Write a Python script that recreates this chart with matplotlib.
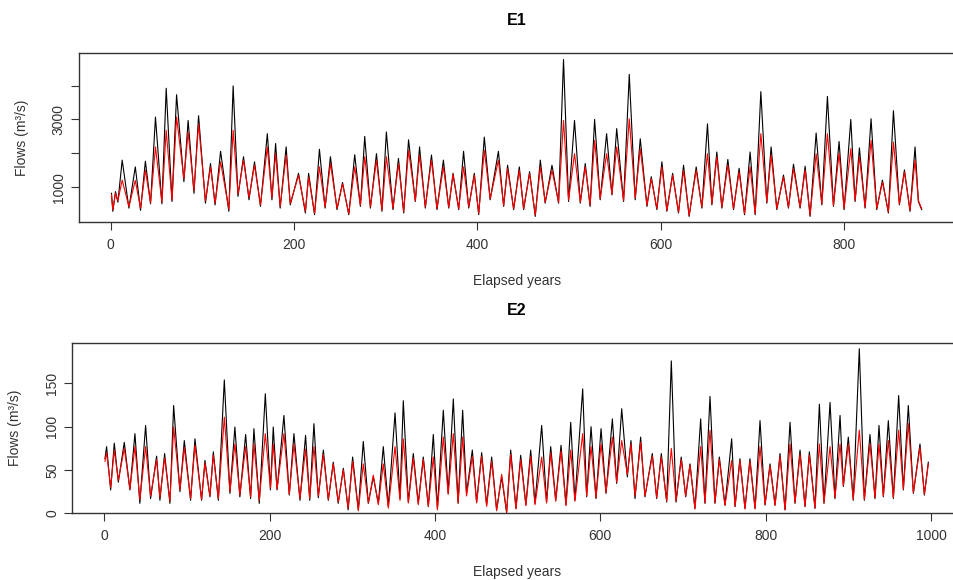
import matplotlib
matplotlib.use("Agg")
import matplotlib.pyplot as plt

plt.rcParams["font.family"] = ["Liberation Sans", "DejaVu Sans"]

# ---- E1: turning points (peaks / troughs) ----
E1_T = [
    1, 2.5, 5.4, 8, 12.7, 20, 27, 32.7, 38, 43.6, 49, 56, 60.7, 67, 72, 80,
    84.6, 91, 96, 103.5, 109, 114, 120, 129, 133.7, 139, 145, 151, 157, 163.5,
    171, 176, 180, 185, 191.5, 196, 205, 212.5, 216, 222.5, 227.8, 234, 239.8,
    247, 253, 259.8, 266.3, 272.5, 277.2, 283.4, 290, 296, 300.8, 308, 314,
    319.7, 325, 332.4, 337, 343.3, 350, 356, 363, 368.8, 373.5, 379.7, 385,
    390.6, 396.7, 401.5, 407.6, 414, 423, 428.7, 433, 439.6, 445.8, 450.5, 457,
    463.2, 468.7, 474, 481.4, 488.6, 494, 499.5, 506, 512.3, 517.7, 523, 527.9,
    534, 541, 546.8, 552, 559.5, 565.7, 572.2, 577.7, 585, 589.7, 595.8, 601.3,
    606.7, 613, 619.4, 624.9, 631, 638.7, 644.9, 651, 655.8, 661.2, 666.7,
    673.2, 679.4, 685.5, 691.4, 697.5, 703, 709.2, 715.7, 720.4, 726.6, 733.9,
    739.3, 744.8, 752, 757.5, 762.9, 769.5, 775.7, 781.8, 788.4, 794.5, 800,
    807.3, 812, 816.7, 822.9, 829.4, 835.6, 841.8, 848.3, 853.8, 860.3, 865.8,
    871.9, 877.4, 881, 884.6,
]
E1_OBS = [
    820, 290, 870, 560, 1800, 385, 1600, 320, 1770, 510, 3070, 510, 3920, 580,
    3730, 1165, 2970, 820, 3110, 530, 1700, 480, 2060, 290, 3990, 730, 1900,
    630, 1750, 435, 2580, 630, 2290, 385, 2190, 480, 1410, 240, 1410, 190,
    2120, 385, 1900, 340, 1140, 190, 1960, 435, 2500, 385, 1990, 290, 2630,
    340, 1850, 240, 2400, 580, 2190, 385, 1950, 340, 1800, 385, 1410, 340,
    2060, 385, 1410, 190, 2480, 630, 2060, 435, 1650, 340, 1600, 340, 1460,
    140, 1800, 530, 1650, 530, 4770, 580, 2970, 530, 1700, 435, 3000, 630,
    2580, 775, 2730, 580, 4330, 630, 2430, 435, 1310, 340, 1750, 290, 1410,
    240, 1650, 140, 1600, 385, 2870, 480, 2040, 385, 1820, 340, 1560, 190,
    2040, 190, 3820, 530, 2190, 340, 1360, 385, 1680, 385, 1620, 140, 2600,
    480, 3680, 435, 2350, 340, 3000, 580, 2160, 385, 3020, 340, 1210, 240,
    3260, 480, 1510, 290, 2190, 580, 340,
]
E1_SIM = [
    780, 330, 820, 600, 1210, 430, 1200, 380, 1500, 540, 2190, 560, 2680, 620,
    3070, 1250, 2630, 900, 2870, 600, 1600, 530, 1750, 350, 2680, 800, 1800,
    700, 1650, 480, 2190, 680, 2000, 430, 1950, 520, 1350, 290, 1300, 230,
    1600, 420, 1700, 380, 1100, 220, 1600, 470, 1900, 420, 1800, 330, 1900,
    380, 1700, 280, 2090, 600, 1950, 420, 1800, 370, 1600, 410, 1380, 370,
    1600, 420, 1350, 230, 2090, 650, 1800, 460, 1550, 370, 1500, 370, 1400,
    180, 1600, 560, 1500, 560, 2970, 620, 1990, 560, 1600, 470, 2380, 660,
    1990, 800, 2190, 610, 3020, 680, 2140, 470, 1250, 370, 1600, 320, 1350,
    270, 1500, 170, 1500, 410, 1990, 510, 1900, 410, 1650, 370, 1450, 220,
    1600, 220, 2580, 560, 1950, 370, 1300, 410, 1550, 410, 1500, 170, 1990,
    510, 2580, 460, 2000, 370, 2140, 610, 1900, 410, 2380, 370, 1150, 270,
    2330, 510, 1450, 320, 1800, 610, 370,
]

# ---- E2: turning points (peaks / troughs) ----
E2_T = [
    0.8, 2.8, 7.7, 12.1, 17, 24.2, 31, 37.1, 43, 50, 56, 63.3, 67.3, 73, 79.4,
    83.9, 91.5, 96.8, 104.4, 109.7, 117.7, 121.8, 127.8, 131.9, 138, 145.2,
    152, 158, 164, 171, 177, 181, 187.5, 194.8, 201, 204.4, 209, 217.3, 223.8,
    229.4, 236.7, 243.5, 248.5, 253.6, 258.9, 265, 271, 277, 283, 289.2, 295,
    300.4, 307.3, 313.3, 319.4, 325.4, 331.5, 337.5, 343.6, 351.7, 357.7,
    361.7, 367.8, 373.8, 379.8, 385.9, 392, 398, 403, 410.1, 416, 422.2, 428,
    433.5, 438.2, 445.2, 450.4, 456.5, 462.5, 468.6, 474.6, 480.7, 486.7,
    491.6, 498, 503.7, 510, 515.8, 521, 529.1, 535, 540, 546.1, 552.5, 558.5,
    564.2, 569.3, 578.7, 583.5, 588.8, 594.8, 600.9, 606.9, 614.6, 619.8,
    625.9, 632.7, 637.1, 642, 648.8, 654, 662.9, 668.2, 673.8, 680.3, 685.9,
    691.6, 697.9, 703.3, 708.5, 714.5, 721.4, 726.6, 732.7, 738.7, 744, 750.8,
    758.9, 763, 768.9, 775, 781, 787.2, 793.2, 799.3, 805.3, 811.4, 817.4,
    823.5, 829.5, 835.5, 841.6, 847.6, 852.9, 859.7, 865, 870.6, 877.9, 883.9,
    890, 894, 900, 906, 913.3, 919.4, 926.2, 932.3, 937.1, 942.4, 948.4,
    954.5, 960.9, 966.6, 972.6, 978.7, 986.7, 992, 996.8,
]
E2_OBS = [
    63, 77, 27, 81, 36, 82, 27, 92, 11.5, 101.5, 17, 66, 15, 69, 11.5, 124.5,
    25, 84, 15, 86, 15, 61, 19, 71, 15, 154, 23, 99.6, 19, 91, 17, 97.7, 11.5,
    138, 27, 99.6, 27, 113, 21, 92, 15, 90, 15, 103.5, 18, 73, 15, 59, 11.5,
    52, 4, 65, 4, 83, 11.5, 42, 11.5, 77, 7.7, 116, 17, 130, 13, 69, 11.5, 65,
    7.7, 91, 5.7, 119, 23, 132, 11.5, 119, 23, 73, 13, 70, 9.6, 65, 4, 42,
    0.8, 73, 5.7, 67, 9.6, 73, 11.5, 101.5, 13, 77, 15, 78.5, 9.6, 105, 15,
    143.7, 19, 100, 17, 97.7, 23, 109, 34.5, 120.7, 42, 84, 17, 88, 19, 69,
    17, 69, 13, 176, 13, 65, 19, 57, 5.7, 109, 11.5, 135, 11.5, 65, 9.6, 86,
    7.7, 63, 5.7, 63, 5.7, 107, 9.6, 57, 9.6, 69, 4, 105, 11.5, 73, 7.7, 71,
    5.7, 126, 11.5, 128, 17, 113, 31, 88, 15, 190, 15, 91, 17, 101.5, 19,
    107, 17, 136, 27, 124.5, 23, 80, 21, 59,
]
E2_SIM = [
    60, 70, 30, 73, 38, 75, 28, 77, 16, 77, 20, 62, 18, 64, 14, 99.6, 27, 76,
    17, 78.5, 16, 58, 20, 67, 17, 111, 25, 80, 21, 77, 19, 80, 15, 92, 29, 80,
    28, 92, 22, 80, 17, 74, 17, 77, 20, 68, 16, 57, 13, 50, 6, 60, 3, 57, 12,
    44, 10, 57, 6, 77, 15, 86, 12, 64, 10, 62, 8, 65, 4, 88, 22, 92, 12, 88,
    20, 66, 12, 66, 8, 60, 3, 45, 1, 68, 5, 62, 9, 66, 10, 65, 12, 70, 14,
    72, 9, 73, 14, 92, 20, 77, 18, 80, 24, 88, 36, 84, 45, 80, 20, 82, 20,
    66, 18, 65, 14, 75, 14, 62, 20, 56, 5, 77, 12, 96, 12, 62, 9, 61, 8, 61,
    5, 60, 5, 77, 10, 55, 9, 66, 4, 80, 12, 68, 8, 67, 6, 80, 12, 77, 18, 80,
    32, 80, 16, 96, 16, 80, 18, 80, 20, 84, 18, 96, 28, 103.5, 24, 76, 22,
    57,
]

PANELS = [
    # title, t, observed, simulated, xlim, ylim, xticks, yticks, ytick labels
    ("E1", E1_T, E1_OBS, E1_SIM, (-34.4, 920.4), (-25, 4960),
     [0, 200, 400, 600, 800], [1000, 2000, 3000, 4000], ["1000", "", "3000", ""]),
    ("E2", E2_T, E2_OBS, E2_SIM, (-38.8, 1036.8), (0, 197),
     [0, 200, 400, 600, 800, 1000], [0, 50, 100, 150], ["0", "50", "100", "150"]),
]

W, H = 954, 580
# axes boxes in pixels: left, top, width, height
BOXES = [(79, 53, 875.5, 169), (72.2, 342.7, 889.2, 170.6)]


def main() -> None:
    fig = plt.figure(figsize=(W / 100, H / 100), dpi=100)
    for (title, t, obs, sim, xlim, ylim, xt, yt, ytl), (l, top, w, h) in zip(PANELS, BOXES):
        ax = fig.add_axes([l / W, (H - top - h) / H, w / W, h / H])
        ax.plot(t, obs, color="black", lw=0.8)
        ax.plot(t, sim, color="#ff0000", lw=0.8)
        ax.set_xlim(*xlim)
        ax.set_ylim(*ylim)
        ax.set_xticks(xt)
        ax.set_yticks(yt)
        ax.set_yticklabels(ytl)
        for s in ax.spines.values():
            s.set_color("#333333")
            s.set_linewidth(1.0)
        ax.tick_params(direction="out", length=5.5, width=0.8, color="#333333",
                       labelsize=10, labelcolor="#333333")
        ax.tick_params(axis="x", pad=6)
        ax.tick_params(axis="y", pad=4, labelrotation=90)
        for lab in ax.get_yticklabels():
            lab.set_verticalalignment("center")
        ax.set_title(title, fontsize=11.5, fontweight="bold", y=1 + 32.3 / h, va="center", pad=0)
        ax.set_xlabel("Elapsed years", fontsize=10, color="#333333")
        ax.xaxis.set_label_coords(0.5, -59 / h)
        ax.xaxis.label.set_verticalalignment("center")
        ax.set_ylabel("Flows (m³/s)", fontsize=10, color="#333333")
        ax.yaxis.set_label_coords(-57 / w, 0.5)
        ax.yaxis.label.set_verticalalignment("center")
    fig.savefig("out.png", dpi=100)


if __name__ == "__main__":
    main()
